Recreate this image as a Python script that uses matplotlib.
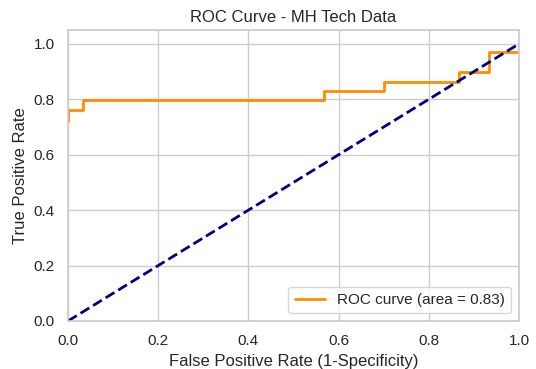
import matplotlib
matplotlib.use("Agg")
import matplotlib.pyplot as plt
import seaborn as sns

sns.set_theme(style="whitegrid")
plt.rcParams['font.family'] = ['Liberation Sans', 'DejaVu Sans']

fpr = [0.0, 0.0, 0.033, 0.033, 0.567, 0.567, 0.700, 0.700, 0.867, 0.867, 0.933, 0.933, 1.0, 1.0]
tpr = [0.723, 0.763, 0.763, 0.796, 0.796, 0.830, 0.830, 0.863, 0.863, 0.897, 0.897, 0.970, 0.970, 1.0]
roc_auc = 0.83

fig = plt.figure(figsize=(5.36, 3.69), dpi=100)
ax = fig.add_axes([68/536, 1-321/369, (519-68)/536, (321-30)/369])
ax.plot(fpr, tpr, color='darkorange', lw=2, label='ROC curve (area = %0.2f)' % roc_auc)
ax.plot([0, 1], [0, 1], color='navy', lw=2, linestyle='--')
ax.set_xlim([0.0, 1.0])
ax.set_ylim([0.0, 1.05])
ax.set_xlabel('False Positive Rate (1-Specificity)')
ax.set_ylabel('True Positive Rate')
ax.set_title('ROC Curve - MH Tech Data')
ax.legend(loc='lower right')
fig.savefig('out.png', dpi=100)
